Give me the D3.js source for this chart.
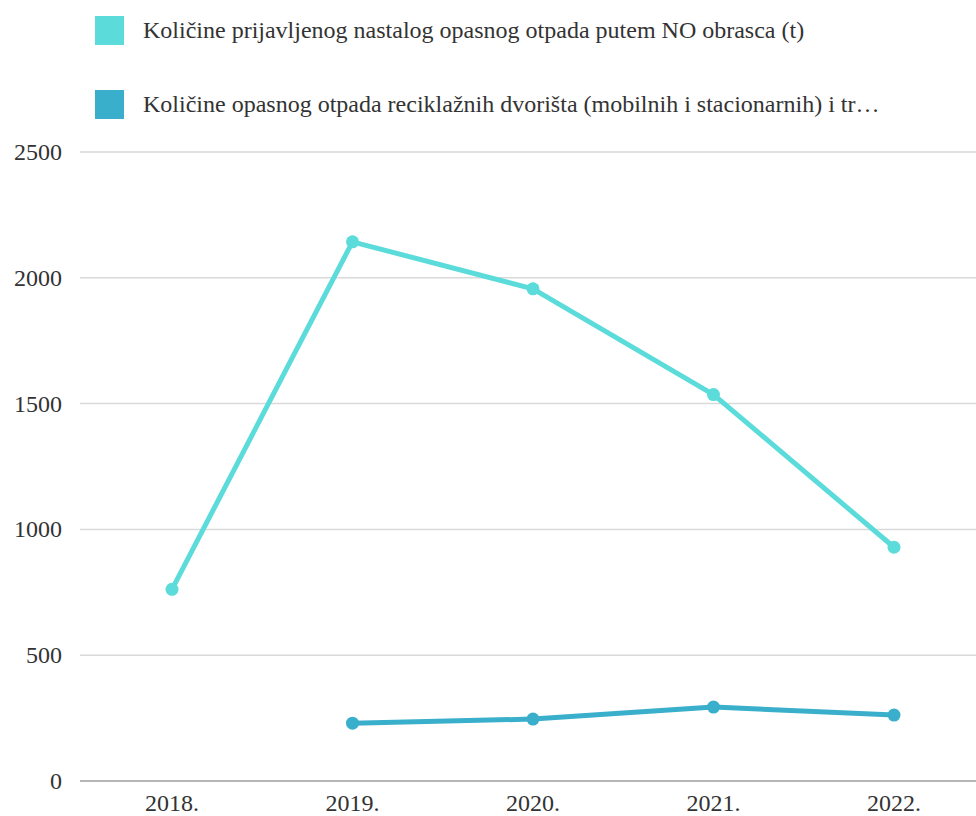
<!DOCTYPE html>
<html><head><meta charset="utf-8">
<script src="https://cdn.jsdelivr.net/npm/d3@7"></script>
</head><body style="margin:0;background:#fff">
<svg id="c" width="976" height="816" style="display:block" font-family="Tinos"></svg>
<script>
const years = ["2018.","2019.","2020.","2021.","2022."];
const seriesNames = [
  "Količine prijavljenog nastalog opasnog otpada putem NO obrasca (t)",
  "Količine opasnog otpada reciklažnih dvorišta (mobilnih i stacionarnih) i tr…"
];
const series1 = [762, 2143, 1956, 1536, 929];
const series2 = [null, 230, 246, 294, 262];
const yTicks = [0, 500, 1000, 1500, 2000, 2500];
const colors = ["#5cdbdb", "#3aafcb"];

const fam = () => "Tinos";
const svg = d3.select("#c");
const x = d3.scalePoint().domain(years).range([172, 894]);
const y = d3.scaleLinear().domain([0, 2500]).range([781, 152]);

// grid
svg.append("g").selectAll("line").data(yTicks).join("line")
  .attr("x1", 80).attr("x2", 976)
  .attr("y1", d => y(d)).attr("y2", d => y(d))
  .attr("stroke", d => d === 0 ? "#b5b5b5" : "#d9d9d9")
  .attr("stroke-width", d => d === 0 ? 2 : 1.5);

// y labels
svg.append("g").selectAll("text").data(yTicks).join("text")
  .attr("x", 62).attr("y", d => y(d) + 8)
  .attr("text-anchor", "end").attr("font-family", fam).style("font-family", fam).attr("font-size", 24)
  .attr("fill", "#333").text(d => d);

// x labels
svg.append("g").selectAll("text").data(years).join("text")
  .attr("x", d => x(d)).attr("y", 811)
  .attr("text-anchor", "middle").attr("font-family", fam).style("font-family", fam).attr("font-size", 24)
  .attr("fill", "#333").text(d => d);

const all = [series1, series2];
const line = d3.line().defined(d => d.v != null).x(d => x(d.k)).y(d => y(d.v));
all.forEach((s, i) => {
  const pts = years.map((k, j) => ({k, v: s[j]}));
  svg.append("path").datum(pts).attr("d", line).attr("fill", "none")
    .attr("stroke", colors[i]).attr("stroke-width", 5).attr("stroke-linejoin", "round");
  svg.append("g").selectAll("circle").data(pts.filter(d => d.v != null)).join("circle")
    .attr("cx", d => x(d.k)).attr("cy", d => y(d.v)).attr("r", 6.5).attr("fill", colors[i]);
});

// legend
const lg = svg.append("g");
lg.selectAll("rect").data(seriesNames).join("rect")
  .attr("x", 95).attr("y", (d, i) => 16 + i * 74).attr("width", 29).attr("height", 29)
  .attr("fill", (d, i) => colors[i]);
lg.selectAll("text").data(seriesNames).join("text")
  .attr("x", 143).attr("y", (d, i) => 38 + i * 74)
  .attr("font-family", fam).style("font-family", fam).attr("font-size", 24)
  .attr("fill", "#333").text(d => d);
</script>
</body></html>
